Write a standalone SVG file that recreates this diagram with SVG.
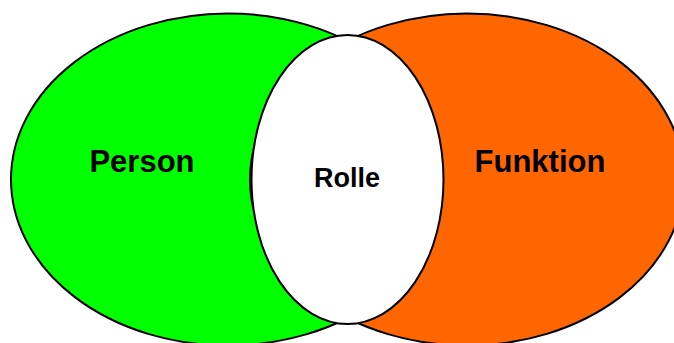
<svg xmlns="http://www.w3.org/2000/svg" width="674" height="343" viewBox="0 0 674 343">
<style>
.shape{stroke:#000;stroke-width:2}
.lbl{font-family:"Liberation Sans",Arial,sans-serif;font-weight:bold;fill:#000;text-anchor:middle}
</style>
<rect width="674" height="343" fill="#fff"/>
<g id="person">
<ellipse class="shape" cx="228" cy="179.5" rx="217" ry="166" fill="#00ff00"/>
<text class="lbl" x="142" y="172" font-size="31">Person</text>
</g>
<g id="funktion">
<ellipse class="shape" cx="467" cy="179.5" rx="217" ry="166" fill="#ff6600"/>
<text class="lbl" x="540" y="172" font-size="31">Funktion</text>
</g>
<g id="rolle">
<ellipse class="shape" cx="347.5" cy="179.5" rx="96" ry="144.5" fill="#fff"/>
<text class="lbl" x="347" y="187" font-size="27">Rolle</text>
</g>
<g id="connectors"></g>
</svg>
